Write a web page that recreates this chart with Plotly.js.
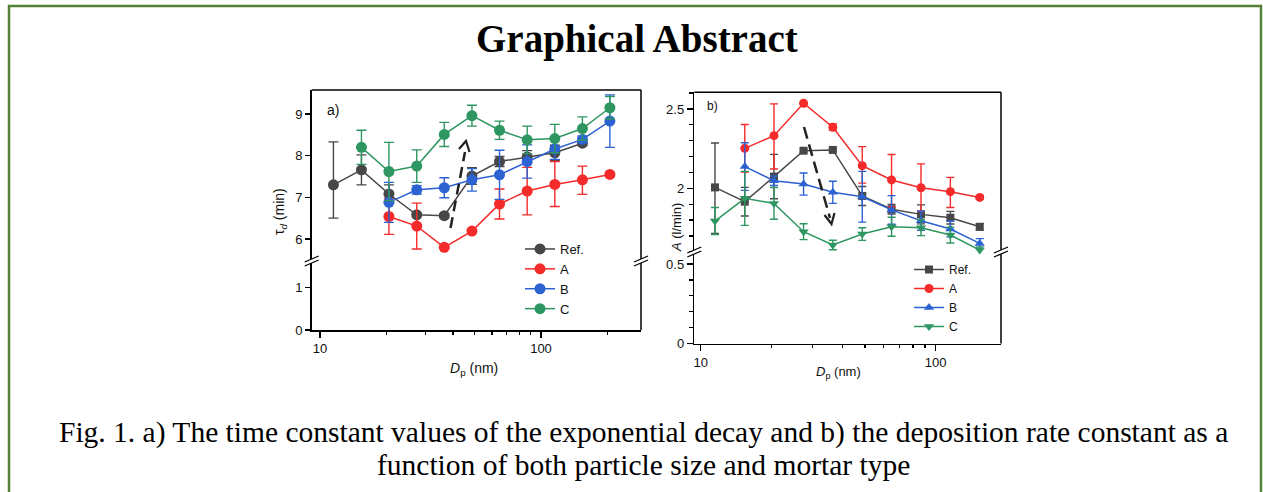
<!DOCTYPE html>
<html>
<head>
<meta charset="utf-8">
<script src="https://cdn.plot.ly/plotly-3.0.1.min.js"></script>
<style>html,body{margin:0;padding:0;background:#fff;}#chart{width:1263px;height:492px;}</style>
</head>
<body>
<div id="chart"></div>
<script>
// ---- data ----
const sizes = [11.5, 15.4, 20.5, 27.4, 36.5, 48.7, 64.9, 86.6, 115.5, 154, 205];
const seriesNames = ['Ref.', 'A', 'B', 'C'];

// Panel a) time constant tau_d (min)
const tauRef = [7.30, 7.66, 7.08, 6.58, 6.56, 7.51, 7.86, 7.97, 8.07, 8.30, null];
const tauRefErrPlus = [1.03, 0.36, 0.22, 0.05, 0.05, 0.20, 0.12, 0.15, 0.18, 0.06, null];
const tauRefErrMinus = [0.80, 0.36, 0.22, 0.05, 0.05, 0.20, 0.12, 0.15, 0.18, 0.06, null];
const tauA = [null, null, 6.54, 6.31, 5.80, 6.19, 6.84, 7.15, 7.31, 7.42, 7.55];
const tauAErrPlus = [null, null, 0.43, 0.55, 0.03, 0.03, 0.36, 0.57, 0.55, 0.33, 0.05];
const tauAErrMinus = [null, null, 0.43, 0.55, 0.03, 0.03, 0.36, 0.57, 0.53, 0.35, 0.05];
const tauB = [null, null, 6.88, 7.18, 7.23, 7.42, 7.54, 7.86, 8.16, 8.39, 8.83];
const tauBErr = [null, null, 0.48, 0.10, 0.24, 0.27, 0.59, 0.40, 0.25, 0.08, 0.63];
const tauC = [null, 8.20, 7.62, 7.75, 8.51, 8.96, 8.61, 8.38, 8.41, 8.65, 9.15];
const tauCErr = [null, 0.41, 0.70, 0.39, 0.29, 0.25, 0.22, 0.33, 0.34, 0.28, 0.27];

// Panel b) deposition rate constant A (l/min)
const depRef = [2.006, 1.916, 2.074, 2.237, 2.242, 1.952, 1.868, 1.836, 1.815, 1.758, null];
const depRefErrPlus = [0.28, 0.09, 0.14, 0.01, 0.01, 0.06, 0.03, 0.06, 0.04, 0.02, null];
const depRefErrMinus = [0.29, 0.09, 0.14, 0.01, 0.01, 0.06, 0.03, 0.06, 0.04, 0.02, null];
const depA = [null, 2.252, 2.332, 2.536, 2.385, 2.143, 2.053, 2.004, 1.979, 1.943, null];
const depAErrPlus = [null, 0.15, 0.20, 0.0, 0.02, 0.12, 0.16, 0.15, 0.09, 0.01, null];
const depAErrMinus = [null, 0.15, 0.21, 0.0, 0.02, 0.11, 0.17, 0.15, 0.10, 0.01, null];
const depB = [null, 2.137, 2.048, 2.027, 1.975, 1.947, 1.864, 1.796, 1.744, 1.653, null];
const depBErr = [null, 0.15, 0.03, 0.07, 0.07, 0.16, 0.09, 0.06, 0.05, 0.03, null];
const depC = [1.794, 1.937, 1.905, 1.727, 1.643, 1.712, 1.758, 1.752, 1.706, 1.611, null];
const depCErr = [0.085, 0.17, 0.10, 0.05, 0.03, 0.04, 0.06, 0.05, 0.05, 0.02, null];

// ---- styling ----
const colors = ['#474747', '#f52a2a', '#2d62d2', '#2e9660'];
const W = 1263, H = 492;
const px = v => v / W;            // pixel x -> paper
const py = v => 1 - v / H;        // pixel y -> paper
const sans = 'Liberation Sans, Arial, sans-serif';
const serif = 'Liberation Serif, Times New Roman, serif';

function tr(y, ep, em, i, xa, ya, legend, symbol, msize, capw) {
  return {
    x: sizes, y: y, name: seriesNames[i], type: 'scatter', mode: 'lines+markers',
    xaxis: xa, yaxis: ya, legend: legend,
    line: {color: colors[i], width: 1.5},
    marker: {color: colors[i], size: msize, symbol: symbol},
    error_y: {type: 'data', symmetric: false, array: ep, arrayminus: em,
              color: colors[i], thickness: 1.4, width: capw},
    cliponaxis: false
  };
}

const data = [
  tr(tauRef, tauRefErrPlus, tauRefErrMinus, 0, 'x', 'y', 'legend', 'circle', 11, 5),
  tr(tauA, tauAErrPlus, tauAErrMinus, 1, 'x', 'y', 'legend', 'circle', 11, 5),
  tr(tauB, tauBErr, tauBErr, 2, 'x', 'y', 'legend', 'circle', 11, 5),
  tr(tauC, tauCErr, tauCErr, 3, 'x', 'y', 'legend', 'circle', 11, 5),
  {x: [], y: [], xaxis: 'x', yaxis: 'y2', showlegend: false, type: 'scatter'},
  tr(depRef, depRefErrPlus, depRefErrMinus, 0, 'x2', 'y3', 'legend2', 'square', 8, 4),
  tr(depA, depAErrPlus, depAErrMinus, 1, 'x2', 'y3', 'legend2', 'circle', 9, 4),
  tr(depB, depBErr, depBErr, 2, 'x2', 'y3', 'legend2', 'triangle-up', 9, 4),
  tr(depC, depCErr, depCErr, 3, 'x2', 'y3', 'legend2', 'triangle-down', 9, 4),
  {x: [], y: [], xaxis: 'x2', yaxis: 'y4', showlegend: false, type: 'scatter'}
];

const axBase = {
  showline: true, linecolor: '#000', linewidth: 1.5, showgrid: false, zeroline: false,
  ticks: 'outside', tickcolor: '#000', tickwidth: 1.3, ticklen: 5,
  tickfont: {family: sans, size: 13, color: '#111'}
};
const logMinor = {tickvals: [20, 30, 40, 50, 60, 70, 80, 90, 200], ticks: 'outside', ticklen: 3, tickcolor: '#000', tickwidth: 1.2, showgrid: false};

// panel pixel geometry
const A = {l: 311.7, r: 641, t: 90, brk: 261, b: 330};
const B = {l: 694.3, r: 1001, t: 92.3, brk: 252, b: 343.5};

function note(text, x, y, size, family, extra) {
  return Object.assign({text: text, x: px(x), y: py(y), xref: 'paper', yref: 'paper',
    xanchor: 'center', yanchor: 'middle', showarrow: false,
    font: {family: family, size: size, color: '#111'}}, extra || {});
}

const layout = {
  width: W, height: H, margin: {l: 0, r: 0, t: 0, b: 0},
  paper_bgcolor: '#fff', plot_bgcolor: 'rgba(0,0,0,0)', showlegend: true,
  xaxis: Object.assign({}, axBase, {
    domain: [px(A.l), px(A.r)], type: 'log', range: [Math.log10(9.17), Math.log10(283.5)],
    anchor: 'y2', tickmode: 'array', tickvals: [10, 100], ticktext: ['10', '100'], ticklen: 6,
    minor: logMinor
  }),
  yaxis: Object.assign({}, axBase, {
    domain: [py(A.brk), py(A.t)], range: [5.472, 9.576], anchor: 'x',
    tickmode: 'array', tickvals: [6, 7, 8, 9]
  }),
  yaxis2: Object.assign({}, axBase, {
    domain: [py(A.b), py(A.brk)], range: [0, 1.616], anchor: 'x',
    tickmode: 'array', tickvals: [0, 1]
  }),
  xaxis2: Object.assign({}, axBase, {
    domain: [px(B.l), px(B.r)], type: 'log', range: [Math.log10(9.39), Math.log10(189.7)],
    anchor: 'y4', tickmode: 'array', tickvals: [10, 100], ticktext: ['10', '100'], ticklen: 6,
    minor: logMinor
  }),
  yaxis3: Object.assign({}, axBase, {
    domain: [py(B.brk), py(B.t)], range: [1.599, 2.605], anchor: 'x2',
    tickmode: 'array', tickvals: [2, 2.5], ticktext: ['2', '2.5'], ticklen: 6,
    minor: {dtick: 0.1, ticks: 'outside', ticklen: 3.5, tickcolor: '#000', tickwidth: 1.2, showgrid: false}
  }),
  yaxis4: Object.assign({}, axBase, {
    domain: [py(B.b), py(B.brk)], range: [0, 0.576], anchor: 'x2',
    tickmode: 'array', tickvals: [0, 0.5], ticktext: ['0', '0.5'], ticklen: 6,
    minor: {dtick: 0.1, ticks: 'outside', ticklen: 3.5, tickcolor: '#000', tickwidth: 1.2, showgrid: false}
  }),
  legend: {
    x: px(520), y: py(234), xanchor: 'left', yanchor: 'top', bgcolor: 'rgba(0,0,0,0)',
    font: {family: sans, size: 13, color: '#111'}, tracegroupgap: 0
  },
  legend2: {
    x: px(909), y: py(255), xanchor: 'left', yanchor: 'top', bgcolor: 'rgba(0,0,0,0)',
    font: {family: sans, size: 12, color: '#111'}, tracegroupgap: 0
  },
  annotations: [
    note('<b>Graphical Abstract</b>', 637, 39, 39, serif, {font: {family: serif, size: 39, color: '#000'}}),
    note('Fig. 1. a) The time constant values of the exponential decay and b) the deposition rate constant as a',
         643.5, 432, 29.5, serif, {font: {family: serif, size: 29.5, color: '#000'}}),
    note('function of both particle size and mortar type', 643.5, 465, 29.5, serif,
         {font: {family: serif, size: 29.5, color: '#000'}}),
    note('a)', 333, 110, 14, sans),
    note('b)', 712, 106, 12, sans),
    note('τ<sub><i>d</i></sub> (min)', 280, 212, 14, sans, {textangle: -90}),
    note('<i>D</i><sub>p</sub> (nm)', 474, 369, 14, sans),
    note('<i>A</i> (l/min)', 677, 228, 13, sans, {textangle: -90}),
    note('<i>D</i><sub>p</sub> (nm)', 838, 372, 13, sans)
  ],
  shapes: []
};

const S = layout.shapes;
function pline(x0, y0, x1, y1, opts) {
  S.push(Object.assign({type: 'line', xref: 'paper', yref: 'paper',
    x0: px(x0), y0: py(y0), x1: px(x1), y1: py(y1), line: {color: '#000', width: 1.5}}, opts || {}));
}
// green frame of the graphical abstract
S.push({type: 'rect', xref: 'paper', yref: 'paper', x0: px(9), y0: py(520), x1: px(1261), y1: py(6),
        line: {color: '#538135', width: 2.5}});
// panel frames (top and right)
[A, B].forEach(p => {
  pline(p.l, p.t, p.r, p.t);
  pline(p.r, p.t, p.r, p.b);
});
// axis-break marks
function brk(x, y) {
  S.push({type: 'rect', xref: 'paper', yref: 'paper', x0: px(x - 2), x1: px(x + 2), y0: py(y + 2), y1: py(y - 2),
          line: {width: 0}, fillcolor: '#fff'});
  pline(x - 7, y + 5, x + 7, y - 1, {line: {color: '#000', width: 1.3}});
  pline(x - 7, y + 1, x + 7, y - 5, {line: {color: '#000', width: 1.3}});
}
brk(A.l, A.brk); brk(A.r, A.brk);
brk(B.l, B.brk); brk(B.r, B.brk);
// dashed trend arrows
pline(450.5, 228, 465, 152, {line: {color: '#222', width: 2.5, dash: '11px,6px'}});
S.push({type: 'path', xref: 'paper', yref: 'paper',
        path: `M${px(459)},${py(149)} L${px(466)},${py(141)} L${px(469.5)},${py(152)}`,
        line: {color: '#222', width: 2.2}});
pline(804, 127, 830, 218, {line: {color: '#222', width: 2.5, dash: '12px,6px'}});
S.push({type: 'path', xref: 'paper', yref: 'paper',
        path: `M${px(824.5)},${py(215)} L${px(831.5)},${py(224)} L${px(834.5)},${py(213)}`,
        line: {color: '#222', width: 2.2}});

Plotly.newPlot('chart', data, layout, {displayModeBar: false, staticPlot: true});
</script>
</body>
</html>
